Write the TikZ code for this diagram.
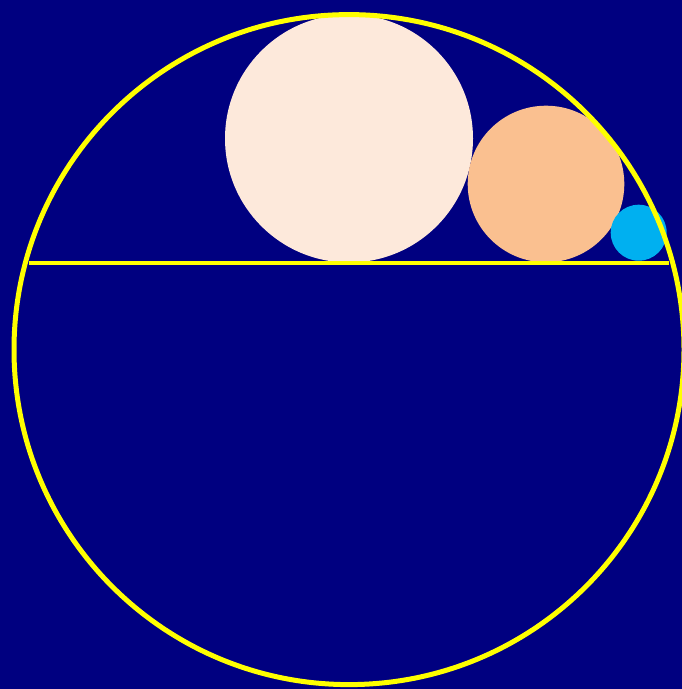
\documentclass[tikz,border=0pt]{standalone}
\definecolor{bgnavy}{HTML}{000080}
\definecolor{rimyellow}{HTML}{FFFF00}
\definecolor{bigfill}{HTML}{FDE9DB}
\definecolor{midfill}{HTML}{FAC090}
\definecolor{smallfill}{HTML}{00B0F0}
\begin{document}
\begin{tikzpicture}[x=0.02cm, y=-0.02cm,
  rim/.style={draw=rimyellow, line width=0.1cm},
  chord/.style={draw=rimyellow, line width=0.08cm},
]
% background and frame
\fill[bgnavy] (0,0) rectangle (682,689);
\useasboundingbox (0,0) rectangle (682,689);
\clip (0,0) rectangle (682,689);
% discs sitting on the chord, each touching the outer circle
\fill[bigfill]   (349,138.5) circle[radius=124];
\fill[midfill]   (546,184)   circle[radius=78.3];
\fill[smallfill] (638.7,232.7) circle[radius=28];
% outer circle and chord
\draw[rim]   (349,349.6) circle[radius=335];
\draw[chord] (29,262.5) -- (669,262.5);
\end{tikzpicture}
\end{document}
